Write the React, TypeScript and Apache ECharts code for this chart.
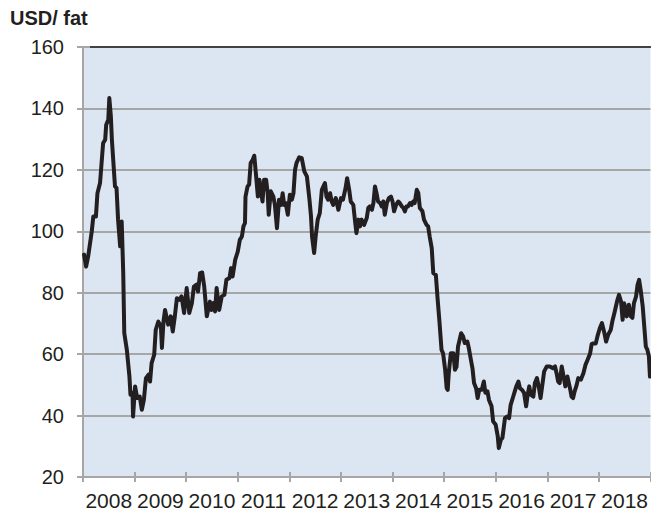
import React, { useEffect, useRef } from "react";
import * as echarts from "echarts";

const years = ["2008", "2009", "2010", "2011", "2012", "2013", "2014", "2015", "2016", "2017", "2018"];
const yTicks = { min: 20, max: 160, interval: 20 };
const unitLabel = "USD/ fat";

// time in fractional years
const dates = [
  2008.02, 2008.06, 2008.10, 2008.17, 2008.20, 2008.25, 2008.28, 2008.33, 2008.36, 2008.39,
  2008.43, 2008.45, 2008.49, 2008.51, 2008.54, 2008.56, 2008.59, 2008.62, 2008.65, 2008.68,
  2008.72, 2008.75, 2008.78, 2008.80, 2008.85, 2008.90, 2008.92, 2008.96, 2008.97, 2009.01,
  2009.05, 2009.10, 2009.14, 2009.18, 2009.22, 2009.27, 2009.30, 2009.33, 2009.38, 2009.41,
  2009.46, 2009.51, 2009.53, 2009.56, 2009.59, 2009.65, 2009.70, 2009.74, 2009.78, 2009.82,
  2009.87, 2009.91, 2009.96, 2010.01, 2010.06, 2010.11, 2010.15, 2010.20, 2010.23, 2010.27,
  2010.31, 2010.35, 2010.40, 2010.46, 2010.49, 2010.53, 2010.56, 2010.59, 2010.64, 2010.69,
  2010.74, 2010.78, 2010.84, 2010.87, 2010.90, 2010.95, 2011.00, 2011.04, 2011.08, 2011.11,
  2011.14, 2011.15, 2011.19, 2011.22, 2011.25, 2011.29, 2011.32, 2011.35, 2011.39, 2011.42,
  2011.45, 2011.48, 2011.51, 2011.55, 2011.58, 2011.60, 2011.64, 2011.69, 2011.72, 2011.76,
  2011.80, 2011.84, 2011.87, 2011.90, 2011.93, 2011.97, 2012.01, 2012.05, 2012.08, 2012.11,
  2012.14, 2012.19, 2012.24, 2012.29, 2012.34, 2012.39, 2012.42, 2012.44, 2012.48, 2012.51,
  2012.55, 2012.59, 2012.63, 2012.66, 2012.69, 2012.72, 2012.75, 2012.79, 2012.82, 2012.85,
  2012.90, 2012.95, 2013.00, 2013.04, 2013.09, 2013.12, 2013.16, 2013.19, 2013.24, 2013.27,
  2013.30, 2013.34, 2013.37, 2013.40, 2013.45, 2013.50, 2013.53, 2013.56, 2013.60, 2013.63,
  2013.66, 2013.69, 2013.72, 2013.76, 2013.79, 2013.82, 2013.85, 2013.89, 2013.93, 2013.97,
  2014.00, 2014.03, 2014.07, 2014.11, 2014.14, 2014.18, 2014.21, 2014.24, 2014.27, 2014.30,
  2014.34, 2014.37, 2014.40, 2014.43, 2014.47, 2014.50, 2014.53, 2014.58, 2014.61, 2014.66,
  2014.69, 2014.72, 2014.76, 2014.79, 2014.84, 2014.87, 2014.91, 2014.95, 2014.98, 2015.02,
  2015.05, 2015.07, 2015.09, 2015.13, 2015.18, 2015.21, 2015.24, 2015.27, 2015.33, 2015.37,
  2015.40, 2015.45, 2015.48, 2015.52, 2015.55, 2015.58, 2015.62, 2015.65, 2015.68, 2015.73,
  2015.77, 2015.80, 2015.84, 2015.87, 2015.92, 2015.95, 2016.00, 2016.04, 2016.06, 2016.10,
  2016.13, 2016.18, 2016.22, 2016.26, 2016.29, 2016.34, 2016.37, 2016.40, 2016.44, 2016.47,
  2016.51, 2016.55, 2016.59, 2016.62, 2016.65, 2016.68, 2016.73, 2016.76, 2016.80, 2016.84,
  2016.87, 2016.90, 2016.94, 2016.99, 2017.05, 2017.11, 2017.15, 2017.18, 2017.21, 2017.24,
  2017.28, 2017.31, 2017.35, 2017.39, 2017.44, 2017.47, 2017.50, 2017.53, 2017.57, 2017.60,
  2017.65, 2017.70, 2017.74, 2017.78, 2017.83, 2017.86, 2017.89, 2017.94, 2017.98, 2018.02,
  2018.06, 2018.10, 2018.14, 2018.18, 2018.23, 2018.26, 2018.30, 2018.33, 2018.36, 2018.39,
  2018.43, 2018.46, 2018.49, 2018.54, 2018.58, 2018.62, 2018.65, 2018.68, 2018.72, 2018.75,
  2018.78, 2018.81, 2018.85, 2018.88, 2018.91, 2018.94, 2018.97, 2018.99,
];

const prices = [
  92.4, 88.5, 91.8, 100.0, 104.8, 104.8, 112.4, 115.7, 122.2, 128.7,
  129.8, 134.7, 136.3, 143.4, 137.4, 129.8, 122.2, 114.6, 114.1, 103.7,
  95.1, 103.2, 86.4, 66.9, 61.4, 52.7, 46.8, 47.4, 39.7, 49.5,
  45.7, 46.2, 41.9, 45.1, 52.2, 53.3, 51.1, 57.1, 59.8, 67.9,
  70.6, 69.0, 62.0, 70.6, 74.4, 69.6, 72.3, 67.4, 72.3, 78.2,
  77.7, 78.8, 73.4, 81.5, 73.4, 76.6, 82.0, 82.6, 80.4, 86.4,
  86.6, 82.0, 72.3, 77.1, 74.4, 76.6, 73.9, 81.5, 74.4, 78.8,
  79.3, 84.2, 84.8, 88.0, 85.3, 90.7, 93.4, 97.2, 98.3, 101.6,
  102.7, 111.3, 114.6, 115.2, 122.2, 123.3, 124.6, 119.0, 111.3, 116.8,
  113.0, 109.7, 116.8, 116.8, 112.4, 105.4, 113.0, 111.3, 108.6, 101.0,
  110.3, 108.6, 112.4, 108.6, 109.2, 105.4, 111.9, 110.3, 112.4, 120.0,
  122.3, 124.1, 123.8, 119.5, 117.9, 110.3, 104.8, 98.3, 92.9, 98.3,
  103.8, 105.9, 113.5, 114.6, 115.7, 111.3, 110.3, 112.4, 109.7, 108.6,
  110.8, 107.0, 110.8, 110.3, 114.1, 117.3, 113.5, 109.7, 108.6, 103.8,
  99.4, 103.8, 101.6, 103.8, 102.1, 104.3, 107.6, 108.1, 107.0, 109.2,
  114.6, 112.4, 109.7, 109.2, 108.1, 109.7, 105.4, 109.2, 110.8, 111.3,
  109.7, 106.5, 108.6, 109.7, 109.2, 108.1, 107.6, 106.5, 108.1, 108.1,
  109.2, 108.6, 109.7, 109.2, 113.5, 112.4, 107.6, 106.5, 103.8, 102.1,
  101.6, 98.3, 94.5, 86.4, 85.8, 78.8, 70.5, 61.4, 60.3, 54.9,
  48.9, 48.4, 53.8, 60.3, 60.3, 54.9, 55.9, 62.5, 66.8, 65.7,
  63.6, 64.1, 61.9, 58.1, 55.4, 50.6, 48.9, 45.7, 48.4, 48.4,
  51.1, 47.4, 47.9, 45.1, 43.0, 38.1, 37.0, 33.2, 29.4, 32.1,
  32.7, 39.2, 39.7, 39.2, 43.5, 46.2, 47.9, 49.5, 51.1, 48.9,
  48.4, 47.4, 43.0, 46.8, 49.5, 46.8, 46.2, 50.6, 52.2, 48.9,
  45.7, 49.5, 54.4, 56.0, 56.0, 55.4, 56.0, 53.8, 51.1, 50.6,
  56.0, 53.3, 49.5, 52.7, 48.9, 46.2, 45.7, 47.9, 50.0, 52.2,
  51.7, 53.8, 56.5, 58.1, 60.2, 63.3, 63.5, 63.5, 66.3, 68.5,
  70.1, 67.4, 64.1, 66.3, 67.9, 70.6, 73.3, 75.5, 77.7, 79.3,
  77.1, 71.2, 76.6, 72.3, 76.1, 72.3, 71.8, 76.6, 78.7, 82.6,
  84.2, 80.9, 75.5, 69.0, 62.5, 61.4, 59.3, 52.7,
];

const FONT = '"Liberation Sans", Arial, sans-serif';
const TEXT = "#231f20";
const GRIDC = "#a6a6a6";

export default function App() {
  const ref = useRef<HTMLDivElement>(null);
  useEffect(() => {
    document.body.style.margin = "0";
    if (!ref.current) return;
    const chart = echarts.init(ref.current, null, { renderer: "svg" });
    const series = dates.map((d, i) => [d, prices[i]]);
    chart.setOption({
      animation: false,
      textStyle: { fontFamily: FONT },
      grid: {
        left: 83,
        right: 0,
        top: 47,
        bottom: 41,
        show: true,
        backgroundColor: "#dce6f2",
        borderWidth: 0,
      },
      graphic: [
        {
          type: "text",
          left: 10,
          top: 8,
          style: { text: unitLabel, font: `bold 20px ${FONT}`, fill: TEXT },
        },
        {
          type: "line",
          shape: { x1: 90, y1: 47, x2: 651, y2: 47 },
          style: { stroke: TEXT, lineWidth: 1.5 },
          z: 10,
        },
      ],
      xAxis: [
        {
          type: "value",
          min: 2008,
          max: 2019,
          interval: 1,
          axisLine: { show: true, lineStyle: { color: GRIDC, width: 2 } },
          axisTick: { show: true, inside: true, length: 5, lineStyle: { color: GRIDC, width: 2 } },
          axisLabel: { show: false },
          splitLine: { show: false },
        },
        {
          type: "category",
          data: years,
          position: "bottom",
          boundaryGap: true,
          axisLine: { show: false },
          axisTick: { show: true, inside: false, length: 5, interval: 0, lineStyle: { color: GRIDC, width: 2 } },
          axisLabel: { interval: 0, fontSize: 21, color: TEXT, margin: 13, fontFamily: FONT },
          splitLine: { show: false },
        },
      ],
      yAxis: {
        type: "value",
        min: yTicks.min,
        max: yTicks.max,
        interval: yTicks.interval,
        axisLine: { show: true, lineStyle: { color: GRIDC, width: 2 } },
        axisTick: { show: true, inside: false, length: 6, lineStyle: { color: GRIDC, width: 2 } },
        axisLabel: { fontSize: 20, color: TEXT, margin: 19, fontFamily: FONT },
        splitLine: { show: true, lineStyle: { color: GRIDC, width: 2 } },
      },
      series: [
        {
          type: "line",
          xAxisIndex: 0,
          data: series,
          showSymbol: false,
          symbol: "none",
          lineStyle: { color: TEXT, width: 4, join: "round", cap: "round" },
          z: 5,
        },
      ],
    });
    return () => chart.dispose();
  }, []);
  return <div ref={ref} style={{ width: 651, height: 518 }} />;
}
